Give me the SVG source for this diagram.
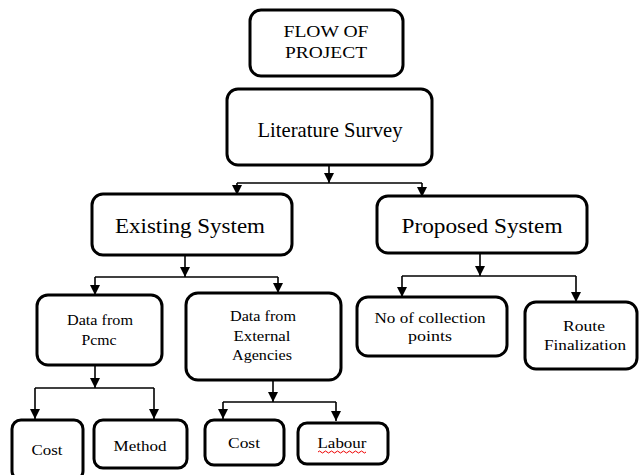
<svg xmlns="http://www.w3.org/2000/svg" width="640" height="475" viewBox="0 0 640 475">
<defs>
<marker id="ah" viewBox="0 0 10 10" refX="10" refY="5" markerWidth="10" markerHeight="10" markerUnits="userSpaceOnUse" orient="auto">
<path d="M0,0 L10,5 L0,10 Z" fill="#000"/>
</marker>
<style>
.box{fill:#fff;stroke:#000;stroke-width:3}
.t{fill:#000;text-anchor:middle}
.c{stroke:#000;stroke-width:1.6;fill:none}
.a{stroke:#000;stroke-width:1.6;fill:none;marker-end:url(#ah)}
</style>
</defs>
<rect width="640" height="475" fill="#fff"/>
<g id="connectors">
<line class="a" x1="329" y1="166" x2="329" y2="183"/>
<polyline class="c" points="237,183 422,183"/>
<line class="a" x1="237" y1="183" x2="237" y2="195"/>
<line class="a" x1="422" y1="183" x2="422" y2="197"/>
<line class="a" x1="185" y1="256" x2="185" y2="277"/>
<polyline class="c" points="95,277 278,277"/>
<line class="a" x1="95" y1="277" x2="95" y2="295"/>
<line class="a" x1="278" y1="277" x2="278" y2="293"/>
<line class="a" x1="480" y1="254" x2="480" y2="276"/>
<polyline class="c" points="402,276 576,276"/>
<line class="a" x1="402" y1="276" x2="402" y2="297"/>
<line class="a" x1="576" y1="276" x2="576" y2="302"/>
<line class="a" x1="95" y1="366" x2="95" y2="388"/>
<polyline class="c" points="35,388 154,388"/>
<line class="a" x1="35" y1="388" x2="35" y2="419"/>
<line class="a" x1="154" y1="388" x2="154" y2="419"/>
<line class="a" x1="273" y1="381" x2="273" y2="402"/>
<polyline class="c" points="223,402 336,402"/>
<line class="a" x1="223" y1="402" x2="223" y2="419"/>
<line class="a" x1="336" y1="402" x2="336" y2="421"/>
</g>
<g font-family="'Liberation Serif', 'DejaVu Serif', serif">
<g id="flow">
<rect class="box" x="250" y="10" width="153" height="66" rx="11"/>
<text class="t" x="326" y="37" font-size="16" textLength="85" lengthAdjust="spacingAndGlyphs">FLOW OF</text>
<text class="t" x="326" y="58" font-size="16" textLength="82" lengthAdjust="spacingAndGlyphs">PROJECT</text>
</g>
<g id="literature">
<rect class="box" x="227" y="89" width="205" height="76" rx="11"/>
<text class="t" x="330" y="137" font-size="21" textLength="145" lengthAdjust="spacingAndGlyphs">Literature Survey</text>
</g>
<g id="existing">
<rect class="box" x="92" y="194" width="200" height="61" rx="11"/>
<text class="t" x="190" y="233" font-size="21" textLength="150" lengthAdjust="spacingAndGlyphs">Existing System</text>
</g>
<g id="proposed">
<rect class="box" x="377" y="196" width="210" height="57" rx="11"/>
<text class="t" x="482" y="233" font-size="21" textLength="161" lengthAdjust="spacingAndGlyphs">Proposed System</text>
</g>
<g id="pcmc">
<rect class="box" x="37" y="295" width="125" height="70" rx="11"/>
<text class="t" x="100" y="325" font-size="15" textLength="66" lengthAdjust="spacingAndGlyphs">Data from</text>
<text class="t" x="99" y="345" font-size="15" textLength="35" lengthAdjust="spacingAndGlyphs">Pcmc</text>
</g>
<g id="external">
<rect class="box" x="186" y="293" width="155" height="87" rx="12"/>
<text class="t" x="263" y="321" font-size="15" textLength="66" lengthAdjust="spacingAndGlyphs">Data from</text>
<text class="t" x="262" y="341" font-size="15" textLength="57" lengthAdjust="spacingAndGlyphs">External</text>
<text class="t" x="262" y="360" font-size="15" textLength="60" lengthAdjust="spacingAndGlyphs">Agencies</text>
</g>
<g id="collection">
<rect class="box" x="357" y="297" width="150" height="59" rx="11"/>
<text class="t" x="430" y="323" font-size="15" textLength="111" lengthAdjust="spacingAndGlyphs">No of collection</text>
<text class="t" x="430" y="341" font-size="15" textLength="44" lengthAdjust="spacingAndGlyphs">points</text>
</g>
<g id="route">
<rect class="box" x="525" y="302" width="112" height="67" rx="11"/>
<text class="t" x="584" y="331" font-size="15" textLength="42" lengthAdjust="spacingAndGlyphs">Route</text>
<text class="t" x="585" y="350" font-size="15" textLength="82" lengthAdjust="spacingAndGlyphs">Finalization</text>
</g>
<g id="cost1">
<rect class="box" x="12" y="420" width="71" height="60" rx="9"/>
<text class="t" x="47" y="455" font-size="15" textLength="31" lengthAdjust="spacingAndGlyphs">Cost</text>
</g>
<g id="method">
<rect class="box" x="94" y="420" width="93" height="48" rx="9"/>
<text class="t" x="140" y="451" font-size="15" textLength="53" lengthAdjust="spacingAndGlyphs">Method</text>
</g>
<g id="cost2">
<rect class="box" x="205" y="420" width="79" height="45" rx="9"/>
<text class="t" x="244" y="448" font-size="15" textLength="32" lengthAdjust="spacingAndGlyphs">Cost</text>
</g>
<g id="labour">
<rect class="box" x="298" y="423" width="90" height="41" rx="9"/>
<text class="t" x="342" y="448" font-size="15" textLength="49" lengthAdjust="spacingAndGlyphs">Labour</text>
<path d="M318,452 q1.5,-2 3,0 t3,0 t3,0 t3,0 t3,0 t3,0 t3,0 t3,0 t3,0 t3,0 t3,0 t3,0 t3,0 t3,0 t3,0 t3,0" stroke="#e00" stroke-width="1" fill="none"/>
</g>
</g>
</svg>
